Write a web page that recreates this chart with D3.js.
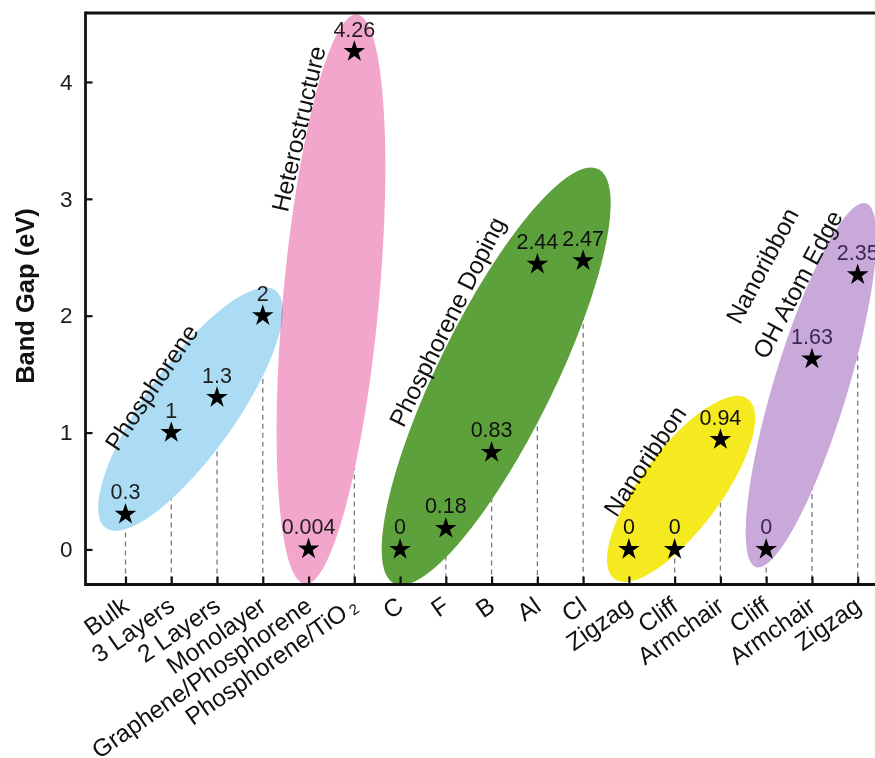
<!DOCTYPE html>
<html>
<head>
<meta charset="utf-8">
<script src="https://cdn.jsdelivr.net/npm/d3@7"></script>
<style>
  body { margin: 0; background: #fff; }
  svg { display: block; }
  text { font-family: "Liberation Sans", Arial, Helvetica, sans-serif; }
</style>
</head>
<body>
<svg id="chart" width="875" height="758"></svg>
<script>
// ---- data ----
const categories = ["Bulk", "3 Layers", "2 Layers", "Monolayer", "Graphene/Phosphorene",
  "Phosphorene/TiO2", "C", "F", "B", "Al", "Cl", "Zigzag", "Cliff", "Armchair",
  "Cliff", "Armchair", "Zigzag"];
const bandGaps = [0.3, 1, 1.3, 2, 0.004, 4.26, 0, 0.18, 0.83, 2.44, 2.47, 0, 0, 0.94, 0, 1.63, 2.35];
const valueLabels = ["0.3", "1", "1.3", "2", "0.004", "4.26", "0", "0.18", "0.83", "2.44",
  "2.47", "0", "0", "0.94", "0", "1.63", "2.35"];
const groupNames = ["Phosphorene", "Heterostructure", "Phosphorene Doping", "Nanoribbon",
  "Nanoribbon\nOH Atom Edge"];
const groupFirst = [0, 4, 6, 11, 14];
const groupLast = [3, 5, 10, 13, 16];
const yTicks = [0, 1, 2, 3, 4];

// ---- layout & style ----
const W = 875, H = 758;
const plot = { left: 85.5, top: 13, right: 905, bottom: 584.5 };
const groupFill = ["#abdcf3", "#f3a6cb", "#5ca13b", "#f5ea1f", "#c8a9da"];
const groupBlend = ["multiply", "multiply", "normal", "multiply", "multiply"];
const groupValueColor = ["#1e1e1e", "#1e1e1e", "#111", "#111", "#3b2755"];
// halo ellipses: centre on the (category index, value) grid, radii in px, tilt in degrees
const halos = [
  { ci: 1.42, cv: 1.20, a: 146, b: 45, tilt: -54.5 },
  { ci: 4.49, cv: 2.14, a: 286, b: 48, tilt: -84.8 },
  { ci: 8.10, cv: 1.482, a: 231, b: 58, tilt: -63.8 },
  { ci: 12.14, cv: 0.518, a: 112, b: 40, tilt: -53.4 },
  { ci: 14.98, cv: 1.405, a: 190, b: 37, tilt: -73.2 }
];
// group captions placed on the same grid
const captions = [
  { ci: 0.56, cv: 1.39, tilt: -56 },
  { ci: 3.77, cv: 3.60, tilt: -77 },
  { ci: 7.02, cv: 1.95, tilt: -63.5 },
  { ci: 11.34, cv: 0.76, tilt: -56 },
  { ci: 14.29, cv: 2.35, tilt: -62 }
];
const captionLineGap = 40;

const svg = d3.select("#chart");

const x = d3.scalePoint()
  .domain(d3.range(categories.length))
  .range([125.5, 857.7]);
const y = d3.scaleLinear()
  .domain([-0.3, 4.59])
  .range([plot.bottom, plot.top]);

svg.append("defs").append("clipPath").attr("id", "plotClip")
  .append("rect")
  .attr("x", plot.left).attr("y", plot.top)
  .attr("width", plot.right - plot.left).attr("height", plot.bottom - plot.top);

// dashed drop lines from each marker to the category axis
svg.append("g")
  .selectAll("line")
  .data(bandGaps)
  .join("line")
  .attr("x1", (d, i) => x(i)).attr("x2", (d, i) => x(i))
  .attr("y1", d => y(d)).attr("y2", plot.bottom)
  .attr("stroke", "#7a7a7a")
  .attr("stroke-width", 1.3)
  .attr("stroke-dasharray", "5,4");

// group halos
const haloLayer = svg.append("g").attr("clip-path", "url(#plotClip)");
halos.forEach((h, g) => {
  haloLayer.append("ellipse")
    .attr("transform", `translate(${x(0) + h.ci * x.step()},${y(h.cv)}) rotate(${h.tilt})`)
    .attr("rx", h.a).attr("ry", h.b)
    .attr("fill", groupFill[g])
    .style("mix-blend-mode", groupBlend[g]);
});

// frame
const frame = svg.append("g").attr("stroke", "#111").attr("stroke-width", 2.8).attr("fill", "none");
frame.append("line").attr("x1", plot.left).attr("x2", W + 5).attr("y1", plot.top).attr("y2", plot.top);
frame.append("line").attr("x1", plot.left).attr("x2", plot.left).attr("y1", plot.top - 1.4).attr("y2", plot.bottom + 1.4);
frame.append("line").attr("x1", plot.left).attr("x2", W + 5).attr("y1", plot.bottom).attr("y2", plot.bottom);

// value axis
const yAxis = svg.append("g")
  .attr("transform", `translate(${plot.left},0)`)
  .call(d3.axisLeft(y).tickValues(yTicks).tickFormat(d3.format("d"))
    .tickSizeInner(-7).tickSizeOuter(0).tickPadding(13));
yAxis.select(".domain").remove();
yAxis.selectAll(".tick line").attr("stroke", "#111").attr("stroke-width", 2.2);
yAxis.selectAll(".tick text").attr("fill", "#1a1a1a").attr("font-size", 22.5).attr("font-family", null);

// category axis
const xAxis = svg.append("g")
  .attr("transform", `translate(0,${plot.bottom})`)
  .call(d3.axisBottom(x).tickFormat(() => "").tickSizeInner(-8).tickSizeOuter(0));
xAxis.select(".domain").remove();
xAxis.selectAll(".tick line").attr("stroke", "#111").attr("stroke-width", 2.2);
xAxis.selectAll(".tick text").remove();

const catLabels = svg.append("g")
  .selectAll("text")
  .data(categories)
  .join("text")
  .attr("transform", (d, i) => `translate(${x(i) + 5},${plot.bottom + 25}) rotate(-35)`)
  .attr("text-anchor", "end")
  .attr("font-size", 24.5)
  .attr("fill", "#111");
catLabels.each(function (d) {
  const t = d3.select(this);
  const m = d.match(/^(.*?)(\d)$/);
  if (m && d.includes("TiO")) {
    t.append("tspan").text(m[1]);
    t.append("tspan").attr("font-size", 15).attr("dx", 4).attr("dy", 2).text(m[2]);
  } else {
    t.text(d);
  }
});

// axis title
svg.append("text")
  .attr("transform", "translate(34,296) rotate(-90)")
  .attr("text-anchor", "middle")
  .attr("font-size", 25.5)
  .attr("font-weight", "bold")
  .attr("fill", "#111")
  .text("Band Gap (eV)");

// group captions
captions.forEach((c, g) => {
  const lines = groupNames[g].split("\n");
  const t = svg.append("text")
    .attr("transform", `translate(${x(0) + c.ci * x.step()},${y(c.cv)}) rotate(${c.tilt})`)
    .attr("text-anchor", "middle")
    .attr("dominant-baseline", "central")
    .attr("font-size", 24.5)
    .attr("fill", "#111");
  lines.forEach((ln, k) => {
    t.append("tspan")
      .attr("x", 0)
      .attr("y", (k - (lines.length - 1) / 2) * captionLineGap)
      .text(ln);
  });
});

// markers
const groupOf = i => groupFirst.findIndex((f, g) => i >= f && i <= groupLast[g]);
svg.append("g")
  .selectAll("path")
  .data(bandGaps)
  .join("path")
  .attr("transform", (d, i) => `translate(${x(i)},${y(d)})`)
  .attr("d", d3.symbol(d3.symbolStar, 145))
  .attr("fill", "#000");

// value labels
svg.append("g")
  .selectAll("text")
  .data(bandGaps)
  .join("text")
  .attr("x", (d, i) => x(i))
  .attr("y", d => y(d) - 15)
  .attr("text-anchor", "middle")
  .attr("font-size", 21.5)
  .attr("fill", (d, i) => groupValueColor[groupOf(i)])
  .text((d, i) => valueLabels[i]);
</script>
</body>
</html>
